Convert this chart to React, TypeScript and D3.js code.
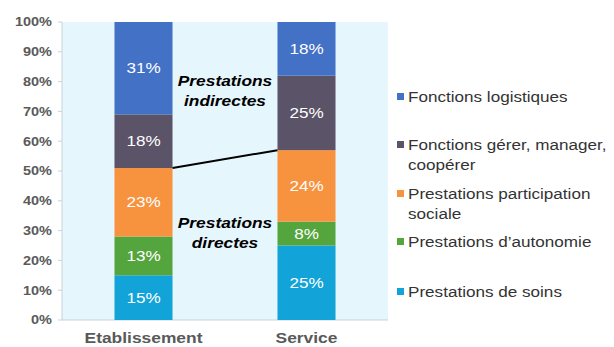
import React from "react";
import * as d3 from "d3";

const categories = ["Etablissement", "Service"];
const seriesNames = [
  "Prestations de soins",
  "Prestations d’autonomie",
  "Prestations participation sociale",
  "Fonctions gérer, manager, coopérer",
  "Fonctions logistiques",
];
const etablissement = [15, 13, 23, 18, 31];
const service = [25, 8, 24, 25, 18];
const colors = ["#12A4D8", "#55A53E", "#F7923F", "#5B5368", "#4371C6"];
const yTicks = [0, 10, 20, 30, 40, 50, 60, 70, 80, 90, 100];
const legendLines = [
  ["Fonctions logistiques"],
  ["Fonctions gérer, manager,", "coopérer"],
  ["Prestations participation", "sociale"],
  ["Prestations d’autonomie"],
  ["Prestations de soins"],
];
const legendColorIdx = [4, 3, 2, 1, 0];
const legendY = [97, 145, 194, 242, 292];

function T(props: any) {
  const { x, y, sx = 1.15, children, ...rest } = props;
  return (
    <text transform={`translate(${x},${y}) scale(${sx},1)`} {...rest}>
      {children}
    </text>
  );
}

export default function App() {
  const W = 614, H = 347;
  const left = 62, right = 388, top = 22, bottom = 320;
  const x = d3.scaleBand<string>().domain(categories).range([left, right]).paddingInner(0.644).paddingOuter(0.322);
  const y = d3.scaleLinear().domain([0, 100]).range([bottom, top]);
  const values = [etablissement, service];
  const stackData = categories.map((c, i) => {
    const o: any = { cat: c };
    seriesNames.forEach((s, j) => (o[s] = values[i][j]));
    return o;
  });
  const stacked = d3.stack<any>().keys(seriesNames)(stackData);
  const font = "'Liberation Sans', Arial, sans-serif";
  const bw = x.bandwidth();
  const directTop = values.map((v) => v[0] + v[1] + v[2]);
  const midX = (x(categories[0])! + bw + x(categories[1])!) / 2;

  return (
    <svg width={W} height={H} style={{ position: "absolute", left: 0, top: 0 }} fontFamily={font}>
      <rect x={0} y={0} width={W} height={H} fill="#fff" />
      <rect x={left} y={top} width={right - left} height={bottom - top} fill="#E6F6FD" />
      <line x1={left} x2={left} y1={top} y2={bottom} stroke="#C8D3DA" />
      <line x1={left} x2={right} y1={bottom} y2={bottom} stroke="#C8D3DA" />
      {yTicks.map((t) => (
        <g key={t}>
          <line x1={left - 4} x2={left} y1={y(t)} y2={y(t)} stroke="#C8D3DA" />
          <T x={52} y={y(t)} sx={1.16} dy="0.35em" textAnchor="end" fontSize={12.5} fontWeight="bold" fill="#5A5A5A">
            {t}%
          </T>
        </g>
      ))}
      {stacked.map((layer, j) =>
        layer.map((d, i) => {
          const cx = x(categories[i])!;
          return (
            <g key={j + "-" + i}>
              <rect x={cx} y={y(d[1])} width={bw} height={y(d[0]) - y(d[1])} fill={colors[j]} />
              <T x={cx + bw / 2} y={(y(d[0]) + y(d[1])) / 2} sx={1.18} dy="0.35em" textAnchor="middle" fontSize={14.5} fill="#fff">
                {values[i][j]}%
              </T>
            </g>
          );
        })
      )}
      <line
        x1={x(categories[0])! + bw}
        y1={y(directTop[0])}
        x2={x(categories[1])!}
        y2={y(directTop[1])}
        stroke="#000"
        strokeWidth={2}
      />
      <g fontSize={15.5} fontWeight="bold" fontStyle="italic" textAnchor="middle" fill="#000">
        <T x={midX} y={86} sx={1.12}>Prestations</T>
        <T x={midX} y={106} sx={1.12}>indirectes</T>
        <T x={midX} y={228} sx={1.12}>Prestations</T>
        <T x={midX} y={248} sx={1.12}>directes</T>
      </g>
      {categories.map((c) => (
        <T key={c} x={x(c)! + bw / 2} y={343} sx={1.16} textAnchor="middle" fontSize={15} fontWeight="bold" fill="#595959">
          {c}
        </T>
      ))}
      {legendLines.map((lines, k) => (
        <g key={k}>
          <rect x={397} y={legendY[k] - 4} width={7} height={7} fill={colors[legendColorIdx[k]]} />
          {lines.map((l, m) => (
            <T key={m} x={408} y={legendY[k] + m * 20} sx={1.14} dy="0.35em" fontSize={15} fill="#333">
              {l}
            </T>
          ))}
        </g>
      ))}
    </svg>
  );
}
